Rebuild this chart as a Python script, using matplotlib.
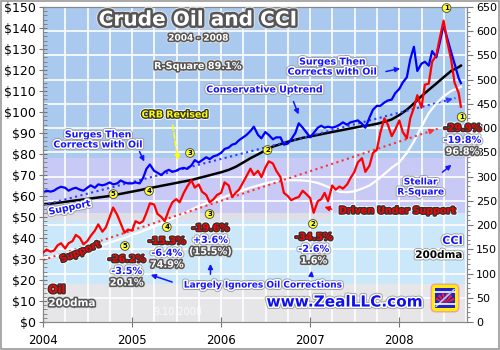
import numpy as np
import pandas as pd
import matplotlib
matplotlib.use('Agg')
import matplotlib.pyplot as plt
import matplotlib.patheffects as pe
from matplotlib.patches import Rectangle, FancyBboxPatch, Wedge
from matplotlib.ticker import MultipleLocator, FuncFormatter

# --- Data ---
semi = pd.date_range('2004-01-01', '2008-09-01', freq='SMS').append(pd.DatetimeIndex(['2008-09-10']))
monthly = pd.date_range('2004-01-01', '2008-09-01', freq='MS').append(pd.DatetimeIndex(['2008-09-10']))

oil = [33.0, 34.5, 33.5, 34.0, 36.5, 37.5, 35.0, 37.5, 38.5, 41.5, 40.0, 37.0,
       38.5, 41.0, 43.5, 46.5, 43.0, 45.0, 50.0, 54.5, 51.0, 47.0, 42.5, 44.0,
       43.5, 48.0, 47.0, 48.0, 52.0, 56.5, 56.0, 51.5, 50.0, 48.0, 53.5, 57.0,
       58.5, 57.0, 61.5, 64.5, 67.5, 64.0, 65.5, 62.0, 60.5, 57.0, 58.5, 60.5,
       61.5, 66.5, 65.0, 59.5, 61.5, 63.0, 66.5, 69.5, 73.0, 70.0, 72.0, 69.0,
       73.5, 76.5, 75.5, 72.0, 69.0, 61.5, 60.0, 58.0, 59.0, 59.5, 62.5, 61.0,
       59.0, 52.0, 57.5, 58.5, 61.5, 57.5, 65.0, 63.0, 64.5, 63.5, 65.5, 68.5,
       71.5, 76.0, 78.0, 71.5, 74.5, 80.5, 82.0, 90.0, 97.0, 94.0, 88.5, 91.5,
       96.0, 90.5, 87.5, 97.0, 102.0, 108.0, 102.0, 113.0, 113.5, 124.0, 127.0, 135.0,
       143.5, 134.0, 125.0, 114.0, 109.0, 102.5]

cci = [266, 271, 269, 271, 276, 279, 277, 271, 275, 277, 273, 271,
       277, 282, 277, 284, 282, 284, 288, 284, 286, 292, 288, 286,
       286, 288, 286, 297, 316, 325, 312, 308, 303, 310, 314, 310,
       312, 316, 318, 316, 323, 334, 329, 334, 340, 336, 342, 344,
       349, 357, 360, 366, 368, 375, 381, 386, 394, 403, 386, 379,
       392, 386, 377, 381, 381, 366, 368, 377, 390, 410, 401, 392,
       381, 390, 401, 405, 401, 403, 401, 403, 407, 412, 407, 412,
       414, 416, 409, 401, 422, 438, 446, 446, 453, 457, 459, 472,
       481, 494, 505, 542, 568, 518, 533, 537, 529, 559, 546, 576,
       613, 587, 557, 533, 503, 493]

cci_200dma = [243, 244, 246, 248, 250, 252, 254, 256, 258, 260, 263, 266,
              269, 272, 275, 278, 281, 284, 287, 290, 293, 297, 301, 305,
              309, 314, 320, 329, 338, 346, 354, 362, 367, 372, 376, 380,
              383, 386, 389, 392, 395, 398, 401, 404, 406, 409, 413, 418,
              427, 438, 451, 466, 479, 492, 505, 518, 526, 529]

oil_200dma = [30.5, 31.0, 31.6, 32.2, 33.0, 33.8, 34.6, 35.6, 36.6, 37.8, 39.0, 40.0,
              41.5, 42.7, 44.0, 45.5, 47.0, 48.5, 50.0, 51.7, 53.5, 55.2, 56.5, 57.7,
              59.0, 60.3, 61.5, 62.8, 64.0, 65.0, 66.0, 66.8, 67.3, 67.5, 67.5, 67.4,
              67.0, 66.2, 65.0, 63.5, 62.0, 61.8, 62.2, 63.5, 65.0, 67.5, 70.5, 73.5,
              76.0, 80.5, 86.0, 93.0, 99.5, 104.0, 107.5, 110.0, 111.5, 112.0]

# support trend lines (start, end)
cci_support_t = [2004.0, 2008.63]
cci_support = [241, 462]
oil_support_t = [2004.0, 2008.43]
oil_support = [29.5, 92.0]


def dec_year(d):
    return d.year + (d.dayofyear - 1) / np.where(d.is_leap_year, 366, 365)


t_semi = dec_year(semi)
t_month = dec_year(monthly)

# --- Layout ---
fig = plt.figure(figsize=(5, 3.5), dpi=100, facecolor='white')
ax = fig.add_axes([43 / 500, 28 / 350, 424 / 500, 315 / 350])   # CCI axis (right)
ax2 = ax.twinx()                                                  # oil axis (left)
ax.set_xlim(2004, 2008.76)
ax.set_ylim(0, 650)
ax2.set_ylim(0, 150)
ax.set_facecolor('#a9c9ef')

# background bands
ax.axhspan(225, 338, color='#c9c9f6', lw=0, zorder=0)
ax.axhspan(78, 225, color='#cbe7fa', lw=0, zorder=0)
ax.fill_between([2004, 2007.22], 208, 225, color='#dedfe6', lw=0, zorder=0)
ax.axhspan(0, 78, color='#e6e6e8', lw=0, zorder=0)

for q in np.arange(2004.25, 2008.76, 0.25):
    ax.axvline(q, color='white', lw=1.2, zorder=1)
for v in range(50, 650, 50):
    ax.axhline(v, color='white', lw=1.2, zorder=1)

ax.plot(t_month, cci_200dma, color='black', lw=1.8, zorder=3)
ax.plot(t_semi, cci, color='#0000ff', lw=1.6, zorder=4)
ax.plot(cci_support_t, cci_support, color='#2a3cff', lw=1.5, ls=':', zorder=3)
ax.annotate('', xy=(cci_support_t[1], cci_support[1]), xytext=(2008.52, 457),
            arrowprops=dict(arrowstyle='-|>', color='#2a3cff', lw=1, mutation_scale=8), zorder=5)

# ticks
ax.yaxis.tick_right()
ax.yaxis.set_label_position('right')
ax2.yaxis.tick_left()
ax2.yaxis.set_label_position('left')
ax.yaxis.set_major_locator(MultipleLocator(50))
ax.yaxis.set_minor_locator(MultipleLocator(10))
ax.set_xticks([2004, 2005, 2006, 2007, 2008])
ax.set_xticklabels(['2004', '2005', '2006', '2007', '2008'])
ax.tick_params(axis='x', labelsize=8.5, pad=5, direction='inout', length=7, color='#777777')
ax.tick_params(axis='y', which='major', labelsize=8, direction='out', length=4, color='#777777', pad=2.5)
ax.tick_params(axis='y', which='minor', direction='out', length=2.5, color='#777777')
for sp in ax.spines.values():
    sp.set_edgecolor('#888888')

ax2.yaxis.set_major_locator(MultipleLocator(10))
ax2.yaxis.set_minor_locator(MultipleLocator(2))
ax2.yaxis.set_major_formatter(FuncFormatter(lambda v, p: f'${v:.0f}'))
ax2.tick_params(axis='y', which='major', labelsize=9, direction='inout', length=6, color='#777777', pad=2)
ax2.tick_params(axis='y', which='minor', direction='in', length=3, color='#777777')
for sp in ax2.spines.values():
    sp.set_edgecolor('#888888')

ax2.plot(t_month, oil_200dma, color='white', lw=1.6, zorder=3)
ax2.plot(oil_support_t, oil_support, color='#ff3030', lw=1.5, ls=':', zorder=3)
ax2.annotate('', xy=(oil_support_t[1], oil_support[1]), xytext=(2008.32, 90.5),
             arrowprops=dict(arrowstyle='-|>', color='#ff3030', lw=1, mutation_scale=8), zorder=5)
ax2.plot(t_semi, oil, color='#ff0000', lw=1.6, zorder=4)

# --- Text styles ---
RED = [pe.Stroke(linewidth=3.2, foreground='white'), pe.Stroke(linewidth=2, foreground='#333333'), pe.Normal()]
BLUE = [pe.Stroke(linewidth=3.4, foreground='#9a9a9a'), pe.Stroke(linewidth=2.2, foreground='white'), pe.Normal()]
GRAY = [pe.Stroke(linewidth=3.4, foreground='#dddddd'), pe.Stroke(linewidth=2.2, foreground='#555555'), pe.Normal()]
BLACK = [pe.Stroke(linewidth=3.4, foreground='#999999'), pe.Stroke(linewidth=2.2, foreground='white'), pe.Normal()]


def label(x, y, s, color, effects, size=7, ha='center', rot=0):
    ax2.text(x, y, s, color=color, fontsize=size, fontweight='bold', ha=ha, va='center',
             rotation=rot, path_effects=effects, zorder=10, linespacing=1.15)


def arrow(x0, y0, x1, y1, color, ls='-'):
    ax2.annotate('', xy=(x1, y1), xytext=(x0, y0), zorder=9,
                 arrowprops=dict(arrowstyle='-|>', color=color, lw=1.1, ls=ls, mutation_scale=7))


def marker(x, y, s):
    ax2.text(x, y, s, fontsize=5, fontweight='bold', ha='center', va='center', zorder=11, clip_on=False,
             bbox=dict(boxstyle='circle,pad=0.2', fc='#ffff33', ec='#444444', lw=0.6))


ax2.text(2005.74, 143.8, 'Crude Oil and CCI', color='white', fontsize=14.5, fontweight='bold',
         ha='center', va='center', zorder=10,
         path_effects=[pe.Stroke(linewidth=5, foreground='#dddddd'),
                       pe.Stroke(linewidth=3.5, foreground='#555555'), pe.Normal()])
label(2005.74, 135.2, '2004 - 2008', 'white', GRAY, size=6.5)
label(2005.74, 121.9, 'R-Square 89.1%', 'white', GRAY, size=7)

label(2006.49, 110.5, 'Conservative Uptrend', '#1414ff', BLUE, size=6.8)
arrow(2006.80, 106.2, 2006.88, 97.6, '#1414ff')
label(2007.25, 121.4, 'Surges Then\nCorrects with Oil', '#1414ff', BLUE, size=6.8)
arrow(2007.82, 119.0, 2008.04, 121.0, '#1414ff')
label(2004.62, 86.7, 'Surges Then\nCorrects with Oil', '#1414ff', BLUE, size=6.8)
arrow(2005.07, 82.4, 2005.15, 75.2, '#1414ff')
label(2005.48, 98.6, 'CRB Revised', '#ffff00', RED, size=6.8)
arrow(2005.45, 95.2, 2005.52, 75.7, '#ffff00', ls='--')

label(2004.30, 54.3, 'Support', '#1414ff', BLUE, size=6.8, rot=12)
label(2004.42, 33.3, 'Support', '#ff0000', RED, size=6.8, rot=22)

label(2008.24, 64.3, 'Stellar\nR-Square', '#1414ff', BLUE, size=6.5)
arrow(2008.46, 70.5, 2008.61, 75.7, '#1414ff')
label(2007.98, 52.9, 'Driven Under Support', '#ff0000', RED, size=6.8)
arrow(2007.27, 53.3, 2007.13, 55.2, '#ff0000')

label(2006.47, 17.6, 'Largely Ignores Oil Corrections', '#1414ff', BLUE, size=6.5)
arrow(2005.48, 18.6, 2005.18, 22.9, '#1414ff')
arrow(2005.88, 21.4, 2005.88, 29.0, '#1414ff')
arrow(2007.01, 21.9, 2007.02, 25.7, '#1414ff')

# correction percentages: oil, CCI, R-square
pct_x = [2004.94, 2005.39, 2005.88, 2007.04, 2008.71]
pct_y = [30.0, 38.6, 44.8, 40.5, 92.4]
pct_oil = ['-26.2%', '-15.3%', '-19.6%', '-34.5%', '-29.9%']
pct_cci = ['-3.5%', '-6.4%', '+3.6%', '-2.6%', '-19.8%']
pct_r2 = ['20.1%', '74.9%', '(15.5%)', '1.6%', '96.8%']
for x, y, a, b, c in zip(pct_x, pct_y, pct_oil, pct_cci, pct_r2):
    label(x, y, a, '#ff0000', RED, size=7)
    label(x, y - 5.7, b, '#1414ff', BLUE, size=7)
    label(x, y - 11.2, c, 'white', GRAY, size=7)

# numbered correction markers
mk_x = [2004.79, 2005.19, 2005.65, 2006.52, 2008.53, 2004.92, 2005.39, 2005.87, 2007.03, 2008.70]
mk_y = [60.9, 62.4, 80.5, 81.9, 149.5, 36.2, 45.2, 51.4, 46.7, 97.6]
mk_s = ['5', '4', '3', '2', '1', '5', '4', '3', '2', '1']
for x, y, s in zip(mk_x, mk_y, mk_s):
    marker(x, y, s)

label(2004.06, 15.2, 'Oil', '#ff0000', RED, size=8, ha='left')
label(2004.06, 9.0, '200dma', 'white', GRAY, size=7.5, ha='left')
label(2008.71, 38.6, 'CCI', '#1414ff', BLUE, size=8, ha='right')
label(2008.71, 31.9, '200dma', 'black', BLACK, size=7.5, ha='right')
ax2.text(2005.51, 4.8, '9.10.2008', color='white', alpha=0.8, fontsize=7, ha='center', va='center', zorder=10)
label(2007.38, 9.5, 'www.ZealLLC.com', '#1010ee', BLUE, size=11)

# --- Logo ---
lg = fig.add_axes([430 / 500, 37 / 350, 30 / 500, 30 / 350])
lg.set_xlim(0, 1)
lg.set_ylim(0, 1)
lg.axis('off')
lg.add_patch(FancyBboxPatch((0.04, 0.04), 0.92, 0.92, boxstyle='round,pad=0.0,rounding_size=0.15',
                            fc='#ffee00', ec='#f0a0a0', lw=1))
lg.add_patch(Rectangle((0.16, 0.16), 0.68, 0.68, fc='#2222cc', ec='none'))
lg.plot([0.16, 0.84], [0.7, 0.7], color='white', lw=1.2)
lg.plot([0.2, 0.8], [0.22, 0.78], color='#aaccff', lw=1.2)
lg.plot([0.16, 0.84], [0.3, 0.3], color='white', lw=1.2)
for a0 in range(20, 160, 25):
    lg.add_patch(Wedge((0.5, 0.32), 0.34, a0, a0 + 14, fc='#ff2020', ec='none'))

fig.patches.append(Rectangle((0.002, 0.003), 0.996, 0.994, transform=fig.transFigure,
                             fill=False, ec='#999999', lw=1.2))

fig.savefig('out.png', dpi=100, facecolor='white')
plt.close(fig)
